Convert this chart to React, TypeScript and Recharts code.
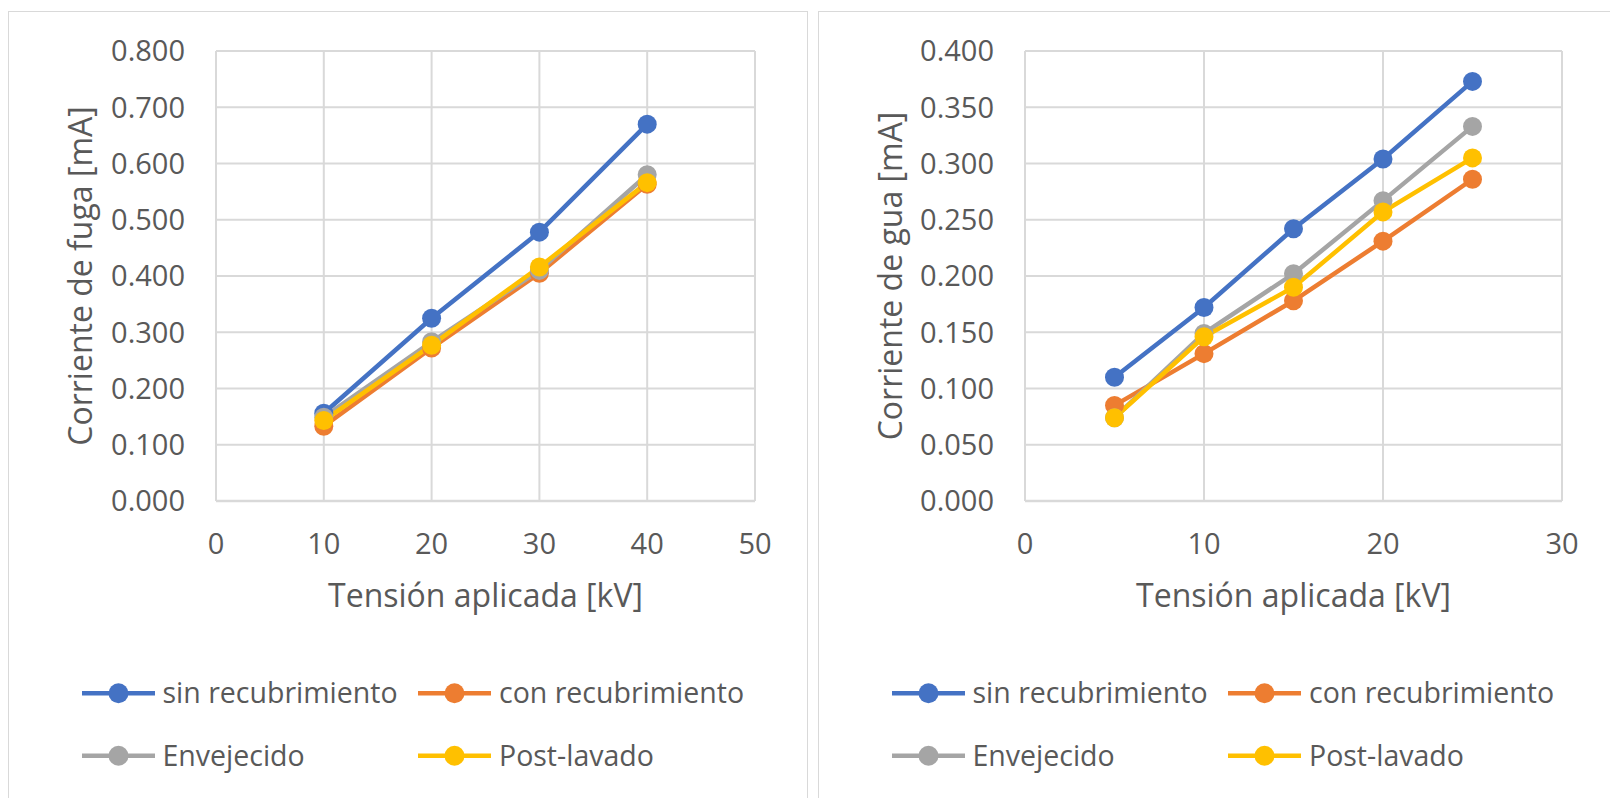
import React from 'react';
import { LineChart, Line, XAxis, YAxis, CartesianGrid } from 'recharts';

const seriesKeys = ['sin', 'con', 'env', 'post'];
const seriesNames = ['sin recubrimiento', 'con recubrimiento', 'Envejecido', 'Post-lavado'];
const seriesColors = ['#4472C4', '#ED7D31', '#A5A5A5', '#FFC000'];

// Left chart: Corriente de fuga
const fugaVoltage = [10, 20, 30, 40];
const fugaSin = [0.156, 0.325, 0.478, 0.670];
const fugaCon = [0.133, 0.272, 0.405, 0.563];
const fugaEnv = [0.149, 0.283, 0.410, 0.580];
const fugaPost = [0.143, 0.277, 0.416, 0.566];
const fugaXTicks = [0, 10, 20, 30, 40, 50];
const fugaYTicks = [0, 0.1, 0.2, 0.3, 0.4, 0.5, 0.6, 0.7, 0.8];

// Right chart: Corriente de gua
const guaVoltage = [5, 10, 15, 20, 25];
const guaSin = [0.110, 0.172, 0.242, 0.304, 0.373];
const guaCon = [0.085, 0.131, 0.178, 0.231, 0.286];
const guaEnv = [0.074, 0.149, 0.202, 0.267, 0.333];
const guaPost = [0.074, 0.146, 0.190, 0.257, 0.305];
const guaXTicks = [0, 10, 20, 30];
const guaYTicks = [0, 0.05, 0.1, 0.15, 0.2, 0.25, 0.3, 0.35, 0.4];

const xTitle = 'Tensión aplicada [kV]';
const fugaYTitle = 'Corriente de fuga [mA]';
const guaYTitle = 'Corriente de gua [mA]';

const FONT = '"Open Sans", "Noto Sans", sans-serif';
const TEXT = '#595959';
const GRID = '#d9d9d9';

function buildRows(xs: number[], cols: number[][]) {
  return xs.map((x, i) => ({
    x,
    sin: cols[0][i],
    con: cols[1][i],
    env: cols[2][i],
    post: cols[3][i],
  }));
}

const fugaData = buildRows(fugaVoltage, [fugaSin, fugaCon, fugaEnv, fugaPost]);
const guaData = buildRows(guaVoltage, [guaSin, guaCon, guaEnv, guaPost]);

type PanelProps = {
  left: number;
  width: number;
  yAxisWidth: number;
  rightMargin: number;
  data: any[];
  xTicks: number[];
  yTicks: number[];
  yTitle: string;
};

function Panel({ left, width, yAxisWidth, rightMargin, data, xTicks, yTicks, yTitle }: PanelProps) {
  const xMax = xTicks[xTicks.length - 1];
  const yMax = yTicks[yTicks.length - 1];
  return (
    <div style={{ position: 'absolute', left, top: 0 }}>
      <LineChart
        width={width}
        height={798}
        data={data}
        margin={{ top: 51, right: rightMargin, bottom: 177, left: 80 }}
      >
        <CartesianGrid stroke={GRID} strokeWidth={2} />
        <XAxis
          type="number"
          dataKey="x"
          domain={[0, xMax]}
          ticks={xTicks}
          interval={0}
          height={120}
          tickLine={false}
          tickSize={0}
          tickMargin={32}
          axisLine={{ stroke: GRID, strokeWidth: 2.5 }}
          tick={{ fill: TEXT, fontSize: 29, fontFamily: FONT }}
          label={{
            content: (p: any) => {
              const vb = p.viewBox || { x: 0, y: 0, width: 0 };
              return (
                <text
                  x={vb.x + vb.width / 2}
                  y={vb.y + 106}
                  textAnchor="middle"
                  fill={TEXT}
                  fontSize={32}
                  fontFamily={FONT}
                >
                  {xTitle}
                </text>
              );
            },
          }}
        />
        <YAxis
          type="number"
          domain={[0, yMax]}
          ticks={yTicks}
          interval={0}
          width={yAxisWidth}
          tickLine={false}
          axisLine={false}
          tickSize={0}
          tickMargin={31}
          tickFormatter={(v: number) => v.toFixed(3)}
          tick={{ fill: TEXT, fontSize: 29, fontFamily: FONT }}
          label={{
            content: (p: any) => {
              const vb = p.viewBox || { x: 0, y: 0, height: 0 };
              const cx = vb.x + 12;
              const cy = vb.y + vb.height / 2;
              return (
                <text
                  x={cx}
                  y={cy}
                  textAnchor="middle"
                  fill={TEXT}
                  fontSize={32}
                  fontFamily={FONT}
                  transform={`rotate(-90, ${cx}, ${cy})`}
                >
                  {yTitle}
                </text>
              );
            },
          }}
        />
        {seriesKeys.map((k, i) => (
          <Line
            key={k}
            type="linear"
            dataKey={k}
            stroke={seriesColors[i]}
            strokeWidth={4.5}
            dot={{ r: 9.5, fill: seriesColors[i], stroke: seriesColors[i], strokeWidth: 0 }}
            activeDot={false}
            isAnimationActive={false}
          />
        ))}
      </LineChart>
    </div>
  );
}

function LegendBlock({ left }: { left: number }) {
  const cols = [
    { l1: 82, l2: 155, c: 118.5, t: 162.5 },
    { l1: 418, l2: 491, c: 454.5, t: 499 },
  ];
  const rows = [693.3, 755.7];
  return (
    <svg
      style={{ position: 'absolute', left, top: 0, pointerEvents: 'none' }}
      width={800}
      height={798}
    >
      {seriesNames.map((name, i) => {
        const col = cols[i % 2];
        const y = rows[Math.floor(i / 2)];
        return (
          <g key={name}>
            <line x1={col.l1} x2={col.l2} y1={y} y2={y} stroke={seriesColors[i]} strokeWidth={4.5} />
            <circle cx={col.c} cy={y} r={10} fill={seriesColors[i]} />
            <text x={col.t} y={y + 10} fill={TEXT} fontSize={28.5} fontFamily={FONT}>
              {name}
            </text>
          </g>
        );
      })}
    </svg>
  );
}

export default function App() {
  return (
    <div
      style={{
        position: 'absolute',
        left: 0,
        top: 0,
        width: 1610,
        height: 798,
        overflow: 'hidden',
        background: '#ffffff',
      }}
    >
      <div
        style={{
          position: 'absolute',
          left: 8,
          top: 11,
          width: 800,
          height: 820,
          border: `1.5px solid ${GRID}`,
          boxSizing: 'border-box',
        }}
      />
      <div
        style={{
          position: 'absolute',
          left: 818,
          top: 11,
          width: 820,
          height: 820,
          border: `1.5px solid ${GRID}`,
          boxSizing: 'border-box',
        }}
      />
      <Panel
        left={0}
        width={810}
        yAxisWidth={136}
        rightMargin={55}
        data={fugaData}
        xTicks={fugaXTicks}
        yTicks={fugaYTicks}
        yTitle={fugaYTitle}
      />
      <Panel
        left={810}
        width={800}
        yAxisWidth={135}
        rightMargin={48}
        data={guaData}
        xTicks={guaXTicks}
        yTicks={guaYTicks}
        yTitle={guaYTitle}
      />
      <LegendBlock left={0} />
      <LegendBlock left={810} />
    </div>
  );
}
